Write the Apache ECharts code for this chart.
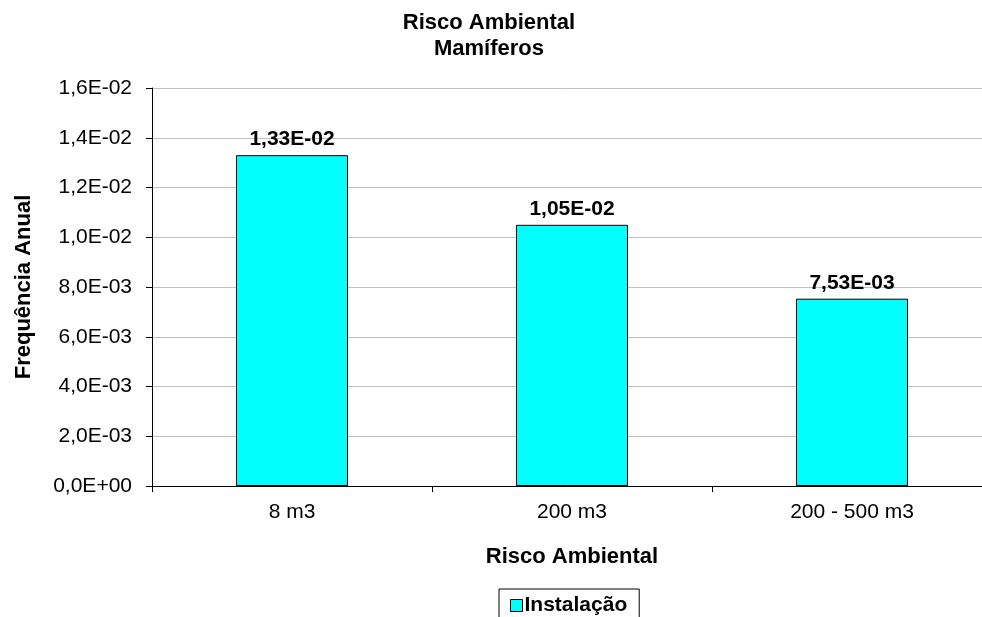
<!DOCTYPE html>
<html><head><meta charset="utf-8">
<script src="https://cdn.jsdelivr.net/npm/echarts@6/dist/echarts.min.js"></script>
<style>html,body{margin:0;padding:0;background:#fff}#c{width:982px;height:617px}</style>
</head><body><div id="c"></div>
<script>
var categories = ['8 m3', '200 m3', '200 - 500 m3'];
var seriesName = 'Instalação';
var values = [0.0133, 0.0105, 0.00753];
var yTicks = [0, 0.002, 0.004, 0.006, 0.008, 0.010, 0.012, 0.014, 0.016];

function fmtExp(v, d) {
  if (v === 0) return (0).toFixed(d).replace('.', ',') + 'E+00';
  var e = Math.floor(Math.log10(Math.abs(v)) + 1e-9);
  var m = v / Math.pow(10, e);
  var ms = m.toFixed(d);
  if (Math.abs(parseFloat(ms)) >= 10) { e += 1; ms = (v / Math.pow(10, e)).toFixed(d); }
  var es = (e < 0 ? '-' : '+') + (Math.abs(e) < 10 ? '0' : '') + Math.abs(e);
  return ms.replace('.', ',') + 'E' + es;
}
var font = 'Liberation Sans, Arial, sans-serif';
var fs = 21;
var chart = echarts.init(document.getElementById('c'));
chart.setOption({
  animation: false,
  title: {
    text: 'Risco Ambiental\nMamíferos',
    left: 484, top: 5, textAlign: 'center',
    textStyle: { fontFamily: font, fontSize: 22, fontWeight: 'bold', color: '#000', lineHeight: 26 }
  },
  legend: {
    data: [seriesName],
    left: 499, top: 589,
    itemWidth: 12, itemHeight: 12, itemGap: 4,
    borderColor: '#000', borderWidth: 1, borderRadius: 0,
    padding: [6, 12, 10, 11],
    icon: 'rect',
    itemStyle: { borderColor: '#000', borderWidth: 1 },
    textStyle: { fontFamily: font, fontSize: fs, fontWeight: 'bold', color: '#000', padding: [0, 0, 0, -3] }
  },
  grid: { left: 152, width: 840, top: 88, bottom: 131, containLabel: false, outerBoundsMode: 'none' },
  xAxis: {
    type: 'category', data: categories,
    name: 'Risco Ambiental', nameLocation: 'middle', nameGap: 60,
    nameTextStyle: { fontFamily: font, fontSize: 22, fontWeight: 'bold', color: '#000' },
    axisLine: { lineStyle: { color: '#000', width: 1 } },
    axisTick: { show: true, length: 6, lineStyle: { color: '#000' } },
    axisLabel: { fontFamily: font, fontSize: fs, color: '#000', margin: 16 }
  },
  yAxis: {
    type: 'value', min: yTicks[0], max: yTicks[yTicks.length - 1], interval: yTicks[1] - yTicks[0],
    name: 'Frequência Anual', nameLocation: 'middle', nameGap: 117, nameRotate: 90,
    nameTextStyle: { fontFamily: font, fontSize: 22, fontWeight: 'bold', color: '#000' },
    axisLine: { show: true, lineStyle: { color: '#000', width: 1 } },
    axisTick: { show: true, length: 6, lineStyle: { color: '#000' } },
    axisLabel: { fontFamily: font, fontSize: fs, color: '#000', margin: 20, formatter: function (v) { return fmtExp(v, 1); } },
    splitLine: { lineStyle: { color: '#c0c0c0', width: 1 } }
  },
  series: [{
    name: seriesName, type: 'bar', data: values, barWidth: '40%',
    itemStyle: { color: '#00ffff', borderColor: '#000', borderWidth: 1 },
    label: {
      show: true, position: 'top', distance: 5,
      fontFamily: font, fontSize: fs, fontWeight: 'bold', color: '#000',
      formatter: function (p) { return fmtExp(p.value, 2); }
    }
  }]
});
</script></body></html>
